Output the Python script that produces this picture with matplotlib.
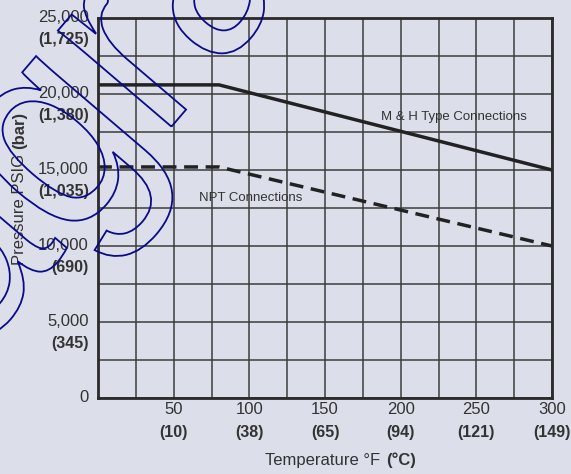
import numpy as np
import matplotlib
matplotlib.use('Agg')
import matplotlib.pyplot as plt
import matplotlib.transforms as mtransforms
from matplotlib.textpath import TextPath
from matplotlib.patches import PathPatch
from matplotlib.font_manager import FontProperties

# data
temps_f = [0, 80, 300]
mh_psi = [20600, 20600, 15000]
npt_psi = [15200, 15200, 10000]

x_ticks = [50, 100, 150, 200, 250, 300]
x_ticks_c = ['(10)', '(38)', '(65)', '(94)', '(121)', '(149)']
y_ticks = [0, 5000, 10000, 15000, 20000, 25000]
y_ticks_bar = ['', '(345)', '(690)', '(1,035)', '(1,380)', '(1,725)']

bg = '#dcdfea'
txt = '#333333'
plt.rcParams['font.family'] = ['Liberation Sans', 'DejaVu Sans']

fig = plt.figure(figsize=(5.71, 4.74), dpi=100, facecolor=bg)
ax = fig.add_axes([98 / 571, 1 - 398 / 474, (552 - 98) / 571, (398 - 18) / 474])
ax.set_facecolor(bg)

ax.set_xlim(0, 300)
ax.set_ylim(0, 25000)
ax.set_xticks(np.arange(0, 301, 25))
ax.set_yticks(np.arange(0, 25001, 2500))
ax.set_xticklabels([])
ax.set_yticklabels([])
ax.tick_params(length=0)
ax.grid(True, color='#3c3c3c', lw=1.1)
ax.set_axisbelow(True)
for s in ax.spines.values():
    s.set_color('#2a2a2a')
    s.set_linewidth(2)

ax.plot(temps_f, mh_psi, color='#222222', lw=2.5, solid_capstyle='butt')
ax.plot(temps_f, npt_psi, color='#222222', lw=2.5, dashes=(4, 2.2))

ax.text(187, 18500, 'M & H Type Connections', fontsize=9.5, color=txt, va='center')
ax.text(67, 13150, 'NPT Connections', fontsize=9.5, color=txt, va='center')

# two-line tick labels
for x, c in zip(x_ticks, x_ticks_c):
    ax.annotate(str(x), xy=(x, 0), xycoords=('data', 'axes fraction'), xytext=(0, -8.6),
                textcoords='offset points', ha='center', va='center', fontsize=12, color=txt,
                annotation_clip=False)
    ax.annotate(c, xy=(x, 0), xycoords=('data', 'axes fraction'), xytext=(0, -24.5),
                textcoords='offset points', ha='center', va='center', fontsize=11.5,
                fontweight='bold', color=txt, annotation_clip=False)
for y, b in zip(y_ticks, y_ticks_bar):
    ax.annotate(f'{y:,}', xy=(0, y), xycoords=('axes fraction', 'data'), xytext=(-6.5, 0),
                textcoords='offset points', ha='right', va='center', fontsize=12, color=txt,
                annotation_clip=False)
    if b:
        ax.annotate(b, xy=(0, y), xycoords=('axes fraction', 'data'), xytext=(-6.5, -15.8),
                    textcoords='offset points', ha='right', va='center', fontsize=11.5,
                    fontweight='bold', color=txt, annotation_clip=False)

# axis titles, regular + bold part
t1 = fig.text(265 / 571, 1 - 460 / 474, 'Temperature \u00b0F ', fontsize=12, color=txt, va='center')
ax.annotate('(\u00b0C)', xy=(1, 0.5), xycoords=t1, xytext=(1, 0), textcoords='offset points',
            ha='left', va='center', fontsize=12, fontweight='bold', color=txt, annotation_clip=False)
t2 = fig.text(20 / 571, 1 - 265 / 474, 'Pressure PSIG ', fontsize=12, color=txt, rotation=90,
              ha='center', va='bottom')
ax.annotate('(bar)', xy=(0.5, 1), xycoords=t2, xytext=(0, 0), textcoords='offset points',
            ha='center', va='bottom', rotation=90, fontsize=12, fontweight='bold', color=txt,
            annotation_clip=False)

# outlined watermark over the chart
tp = TextPath((0, 0), 'Diagram', size=256, prop=FontProperties(family='Liberation Sans'))
tr = mtransforms.Affine2D().scale(1, 1.1).rotate_deg(49.5).translate(-182, -66.5)
wm = PathPatch(tr.transform_path(tp), facecolor='none', edgecolor='#0a0a8c', lw=1.3,
               transform=mtransforms.IdentityTransform(), zorder=10)
fig.add_artist(wm)

fig.savefig('out.png', dpi=100, facecolor=bg)
